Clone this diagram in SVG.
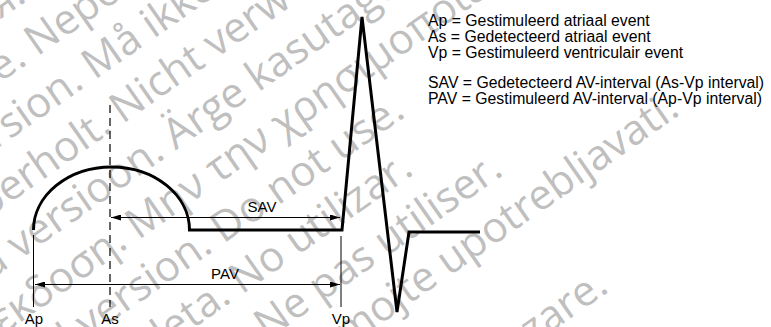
<svg xmlns="http://www.w3.org/2000/svg" width="771" height="327" viewBox="0 0 771 327">
<style>
.wm{font-family:"Open Sans","Noto Sans",sans-serif;font-size:42px;fill:#bfbfbf}
.lbl{font-family:"Liberation Sans",Arial,sans-serif;font-size:15px;fill:#000}
.leg{font-family:"Liberation Sans",Arial,sans-serif;font-size:15.8px;fill:#000}
.wave{fill:none;stroke:#000;stroke-width:3;stroke-linejoin:miter}
.thin{stroke:#000;stroke-width:1;fill:none}
.dash{stroke:#000;stroke-width:1.2;stroke-dasharray:8 5;fill:none}
</style>
<defs>
<marker id="ah" viewBox="0 0 10 6" refX="10" refY="3" markerWidth="10" markerHeight="6" markerUnits="userSpaceOnUse" orient="auto-start-reverse">
<path d="M0,0 L10,3 L0,6 z" fill="#000"/>
</marker>
</defs>
<rect width="771" height="327" fill="#fff"/>
<g id="watermark" transform="rotate(-35)">
<text class="wm" x="-335" y="16">Остаряла версия. Да не се използва.</text>
<text class="wm" x="-320" y="68">Zastaralá verze. Nepoužívat.</text>
<text class="wm" x="-320" y="120">Forældet version. Må ikke anvendes.</text>
<text class="wm" x="-320" y="172">Version überholt. Nicht verwenden.</text>
<text class="wm" x="-320" y="224">Aegunud versioon. Ärge kasutage.</text>
<text class="wm" x="-320" y="276">Παλιά έκδοση. Μην την χρησιμοποιείτε.</text>
<text class="wm" x="-320" y="328">Outdated version. Do not use.</text>
<text class="wm" x="-320" y="380">Versión obsoleta. No utilizar.</text>
<text class="wm" x="-320" y="432">Version périmée. Ne pas utiliser.</text>
<text class="wm" x="-320" y="484">Zastarjela verzija. Nemojte upotrebljavati.</text>
<text class="wm" x="-320" y="588">Versione obsoleta. Non utilizzare.</text>
</g>
<g id="waveform">
<path class="wave" d="M33.5,230 A78,63 0 0 1 189.5,230 L342,230 L362,17 L397,312 L409,232 L480,232"/>
</g>
<g id="connectors">
<line class="thin" x1="33.5" y1="235" x2="33.5" y2="307"/>
<line class="dash" x1="110" y1="105" x2="110" y2="307"/>
<line class="thin" x1="341" y1="236" x2="341" y2="307"/>
<line class="thin" x1="111" y1="217.5" x2="340" y2="217.5" marker-start="url(#ah)" marker-end="url(#ah)"/>
<line class="thin" x1="35" y1="284.5" x2="340" y2="284.5" marker-start="url(#ah)" marker-end="url(#ah)"/>
</g>
<g id="labels">
<text class="lbl" x="262" y="212" text-anchor="middle">SAV</text>
<text class="lbl" x="225" y="279" text-anchor="middle">PAV</text>
<text class="lbl" x="34" y="324" text-anchor="middle">Ap</text>
<text class="lbl" x="110" y="324" text-anchor="middle">As</text>
<text class="lbl" x="341" y="324" text-anchor="middle">Vp</text>
</g>
<g id="legend">
<text class="leg" x="428" y="26">Ap = Gestimuleerd atriaal event</text>
<text class="leg" x="428" y="42">As = Gedetecteerd atriaal event</text>
<text class="leg" x="428" y="58">Vp = Gestimuleerd ventriculair event</text>
<text class="leg" x="428" y="88">SAV = Gedetecteerd AV-interval (As-Vp interval)</text>
<text class="leg" x="428" y="104">PAV = Gestimuleerd AV-interval (Ap-Vp interval)</text>
</g>
</svg>
